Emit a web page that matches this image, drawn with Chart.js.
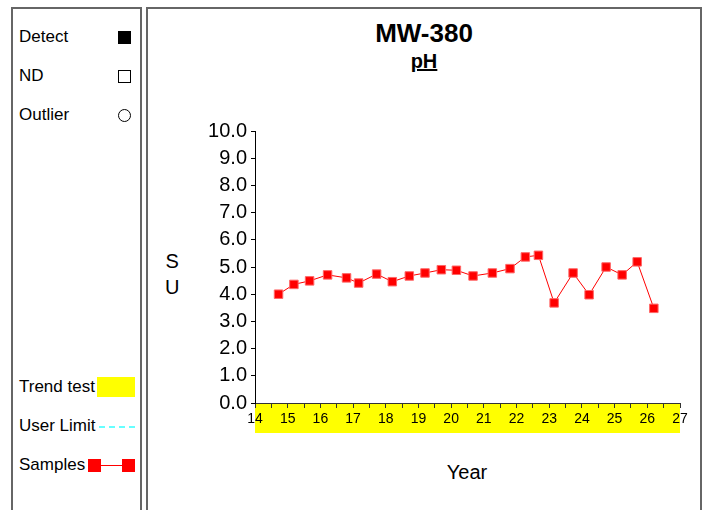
<!DOCTYPE html>
<html>
<head>
<meta charset="utf-8">
<script src="https://cdn.jsdelivr.net/npm/chart.js@4/dist/chart.umd.min.js"></script>
<style>
  body{margin:0;width:707px;height:510px;overflow:hidden;background:#fff;font-family:"Liberation Sans",Arial,sans-serif;color:#000;position:relative}
  .panel{position:absolute;border:2px solid #666;border-bottom:none}
  .lg{position:absolute;left:19px;font-size:17px;line-height:20px}
  .t{position:absolute;text-align:center;font-weight:bold}
  #cv{position:absolute;left:0;top:0}
</style>
</head>
<body>
<div class="panel" style="left:11px;top:7px;width:127px;height:510px"></div>
<div class="panel" style="left:146px;top:7px;width:552px;height:510px"></div>

<div class="lg" style="top:27px">Detect</div>
<div style="position:absolute;left:118px;top:31px;width:13px;height:13px;background:#000"></div>
<div class="lg" style="top:66px">ND</div>
<div style="position:absolute;left:118px;top:70px;width:11px;height:11px;border:1px solid #000"></div>
<div class="lg" style="top:105px">Outlier</div>
<div style="position:absolute;left:118px;top:109px;width:11px;height:11px;border:1px solid #000;border-radius:50%"></div>

<div class="lg" style="top:377px">Trend test</div>
<div style="position:absolute;left:97px;top:377px;width:38px;height:20px;background:#ffff00"></div>
<div class="lg" style="top:416px">User Limit</div>
<div style="position:absolute;left:99px;top:426px;width:36px;border-top:2px dashed #66ffff"></div>
<div class="lg" style="top:455px">Samples</div>
<div style="position:absolute;left:94px;top:465px;width:34px;border-top:1px solid #ff0000"></div>
<div style="position:absolute;left:88px;top:459px;width:13px;height:13px;background:#ff0000"></div>
<div style="position:absolute;left:122px;top:459px;width:13px;height:13px;background:#ff0000"></div>

<div class="t" style="left:324px;top:18px;width:200px;font-size:26px">MW-380</div>
<div class="t" style="left:324px;top:50px;width:200px;font-size:20px;text-decoration:underline">pH</div>
<div style="position:absolute;left:165px;top:248px;font-size:20px;line-height:26px;text-align:center">S<br>U</div>
<div style="position:absolute;left:417px;top:461px;width:100px;text-align:center;font-size:20px">Year</div>

<canvas id="cv" width="707" height="510"></canvas>
<script>
const anni=[14.72,15.19,15.67,16.22,16.80,17.17,17.72,18.20,18.72,19.20,19.70,20.16,20.67,21.26,21.80,22.27,22.67,23.15,23.73,24.22,24.74,25.23,25.69,26.20];
const valori=[4.00,4.36,4.49,4.71,4.60,4.41,4.74,4.46,4.67,4.78,4.90,4.88,4.67,4.78,4.94,5.37,5.43,3.68,4.78,3.98,5.00,4.71,5.19,3.48];
const xMin=14, xMax=27;
const yMin=0, yMax=10;

const punti=anni.map((a,i)=>({x:a,y:valori[i]}));

const fasciaTrend={
  id:'fasciaTrend',
  beforeDraw(chart){
    const c=chart.ctx, x=chart.scales.x, a=chart.chartArea;
    c.save();
    c.fillStyle='#ffff00';
    c.fillRect(x.getPixelForValue(xMin),a.bottom,x.getPixelForValue(xMax)-x.getPixelForValue(xMin),30);
    c.restore();
  }
};

new Chart(document.getElementById('cv').getContext('2d'),{
  type:'scatter',
  data:{datasets:[{
    label:'Samples',
    data:punti,
    showLine:true,
    borderColor:'#ff0000',
    borderWidth:1,
    pointStyle:'rect',
    pointRadius:6,
    pointBackgroundColor:'#ff0000',
    pointBorderColor:'#ff6666',
    pointBorderWidth:1
  }]},
  options:{
    responsive:false,
    animation:false,
    layout:{padding:{top:131,right:27,bottom:0,left:0}},
    plugins:{legend:{display:false},tooltip:{enabled:false}},
    scales:{
      x:{
        type:'linear',min:xMin,max:xMax,
        afterFit(s){s.height=107},
        afterBuildTicks(s){
          const t=[];
          for(let v=xMin;v<=xMax+0.001;v+=0.5)t.push({value:v});
          s.ticks=t;
        },
        ticks:{
          autoSkip:false,maxRotation:0,padding:3,color:'#000',
          font:{family:'"Liberation Sans", Arial',size:14},
          callback:v=>Number.isInteger(v)?String(v):''
        },
        grid:{drawOnChartArea:false,drawTicks:true,tickLength:5,color:'#333'},
        border:{color:'#333',width:1}
      },
      y:{
        min:yMin,max:yMax,
        afterFit(s){s.width=255},
        ticks:{
          stepSize:1,padding:4,color:'#000',
          font:{family:'"Liberation Sans", Arial',size:20},
          callback:v=>v.toFixed(1)
        },
        grid:{drawOnChartArea:false,drawTicks:true,tickLength:4,color:'#000'},
        border:{color:'#000',width:1}
      }
    }
  },
  plugins:[fasciaTrend]
});
</script>
</body>
</html>
